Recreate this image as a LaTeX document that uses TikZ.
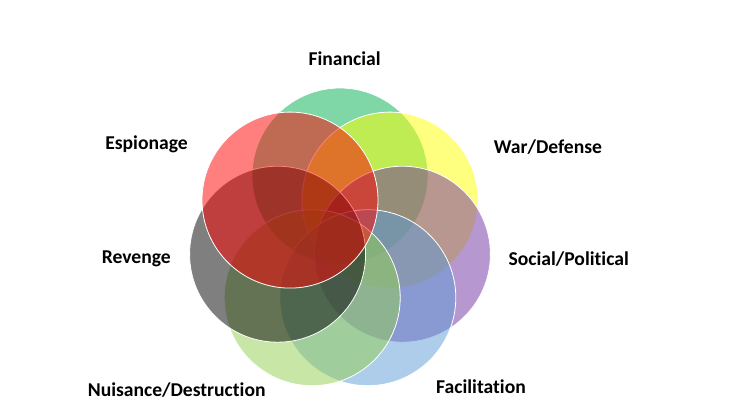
\documentclass[tikz,border=0pt]{standalone}
\usepackage{fontspec}
\setmainfont{Carlito}[Ligatures=NoCommon]
\usetikzlibrary{positioning}
\definecolor{MotGreen}{RGB}{0,176,80}
\definecolor{MotYellow}{RGB}{255,255,0}
\definecolor{MotPurple}{RGB}{112,48,160}
\definecolor{MotBlue}{RGB}{91,155,213}
\definecolor{MotLime}{RGB}{146,208,80}
\definecolor{MotBlack}{RGB}{0,0,0}
\definecolor{MotRed}{RGB}{255,0,0}
\tikzset{
  mot/petal/.style={
    circle,
    draw=white,
    line width=0.8pt,
    fill opacity=0.5,
    minimum size=176pt,
    inner sep=0pt
  },
  mot/label/.style={
    anchor=base,
    font=\fontsize{19.6}{23}\selectfont\bfseries,
    text=black
  }
}
\begin{document}
\begin{tikzpicture}[x=1pt,y=-1pt]
  \useasboundingbox (0,0) rectangle (748,406);
  % petals, clockwise from the top
  \node[mot/petal,fill=MotGreen] (fin) at (340,176) {};
  \node[mot/petal,fill=MotYellow] (war) at (390,200.1) {};
  \node[mot/petal,fill=MotPurple] (soc) at (402.4,254.2) {};
  \node[mot/petal,fill=MotBlue] (fac) at (367.8,297.7) {};
  \node[mot/petal,fill=MotLime] (nui) at (312.2,297.7) {};
  \node[mot/petal,fill=MotBlack] (rev) at (277.6,254.2) {};
  \node[mot/petal,fill=MotRed] (esp) at (290,200.1) {};
  % labels
  \node[mot/label] (finlab) at (344.6,66) {Financial};
  \node[mot/label] (esplab) at (146.5,150) {Espionage};
  \node[mot/label] (warlab) at (548,154) {War/Defense};
  \node[mot/label] (revlab) at (136.3,264) {Revenge};
  \node[mot/label] (soclab) at (568.7,265.3) {Social/Political};
  \node[mot/label] (nuilab) at (176.7,396.7) {Nuisance/Destruction};
  \node[mot/label] (faclab) at (481,394) {Facilitation};
\end{tikzpicture}
\end{document}
